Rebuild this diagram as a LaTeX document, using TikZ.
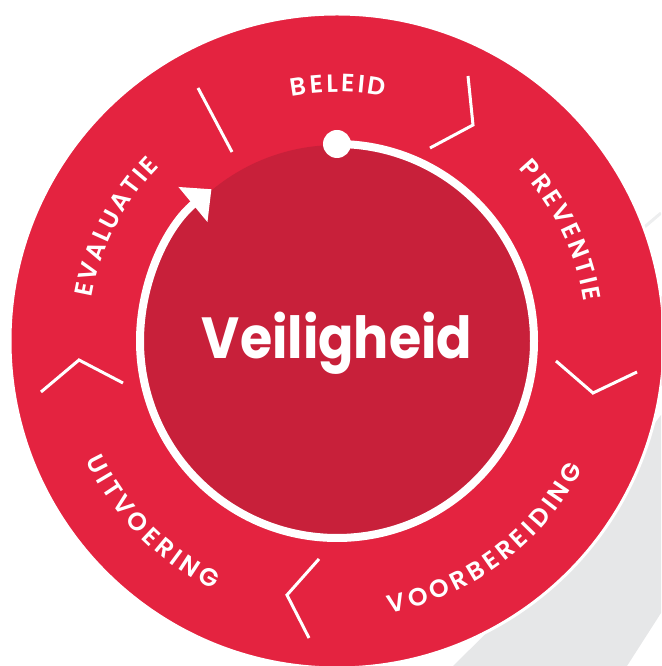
\documentclass[tikz,border=0pt]{standalone}
\usepackage{fontspec}
\usetikzlibrary{decorations.text,arrows.meta}
\newfontfamily\labfont{Poppins SemiBold}
\newfontfamily\bigfont{Poppins Bold}
\newcommand\labstyle{\labfont\fontsize{25pt}{28pt}\selectfont}
\definecolor{ringred}{HTML}{E42340}
\definecolor{innerred}{HTML}{C8203A}
\definecolor{bggray}{HTML}{E6E7E8}
\definecolor{lightline}{HTML}{EDEEEF}
\tikzset{
  chev/.style={white, line width=3pt, line cap=butt, line join=miter},
  toplabel/.style={decorate, decoration={text along path, text align={fit to path}, text color=white}},
}
\begin{document}
\begin{tikzpicture}[x=1pt,y=1pt]
\useasboundingbox (0,0) rectangle (661,666);
\clip (0,0) rectangle (661,666);
\coordinate (c) at (337,325);
% background gray shape
\fill[bggray] (453,0) -- (520,66) -- (661,251) -- (661,53) -- (627,0) -- cycle;
\draw[lightline, line width=3pt] (615,414) -- (661,453);
% outer ring
\fill[ringred, draw=white, line width=3pt] (c) circle[radius=327];
% inner disc
\fill[innerred] (c) circle[radius=196];
% cycle arrow
\draw[white, line width=8pt, -{Triangle[width=44pt,length=24pt]}]
  ([shift={(90:197)}]c) arc[start angle=90, end angle=-230.4, radius=197];
\node[circle, fill=white, minimum size=28pt, inner sep=0pt] (dot) at ([shift={(90:197)}]c) {};
% separators
\draw[chev] (198,578) -- (232,514);
\draw[chev] (468,590) -- (473,541) -- (430,518);
\draw[chev] (556,305) -- (593,273) -- (637,294);
\draw[chev] (319,107) -- (287,71) -- (309,28);
\draw[chev] (41,274) -- (79,306) -- (123,283);
% labels
\path[toplabel, decoration={text={|\labstyle|BELEID}}]
  ([shift={(100.5:249)}]c) arc[start angle=100.5, end angle=79, radius=249];
\path[toplabel, decoration={text={|\labstyle|PREVENTIE}}]
  ([shift={(43.5:250)}]c) arc[start angle=43.5, end angle=9, radius=250];
\path[toplabel, decoration={text={|\labstyle|EVALUATIE}}]
  ([shift={(170:249)}]c) arc[start angle=170, end angle=135.5, radius=249];
\path[toplabel, decoration={text={|\labstyle|UITVOERING}}]
  ([shift={(205.5:278)}]c) arc[start angle=205.5, end angle=243.5, radius=278];
\path[toplabel, decoration={text={|\labstyle|VOORBEREIDING}}]
  ([shift={(-79:277)}]c) arc[start angle=-79, end angle=-27.5, radius=277];
% title
\node[font=\bigfont\fontsize{58pt}{58pt}\selectfont, text=white, anchor=base, inner sep=0pt, xscale=0.9] (title) at (337,307) {Veiligheid};
\end{tikzpicture}
\end{document}
